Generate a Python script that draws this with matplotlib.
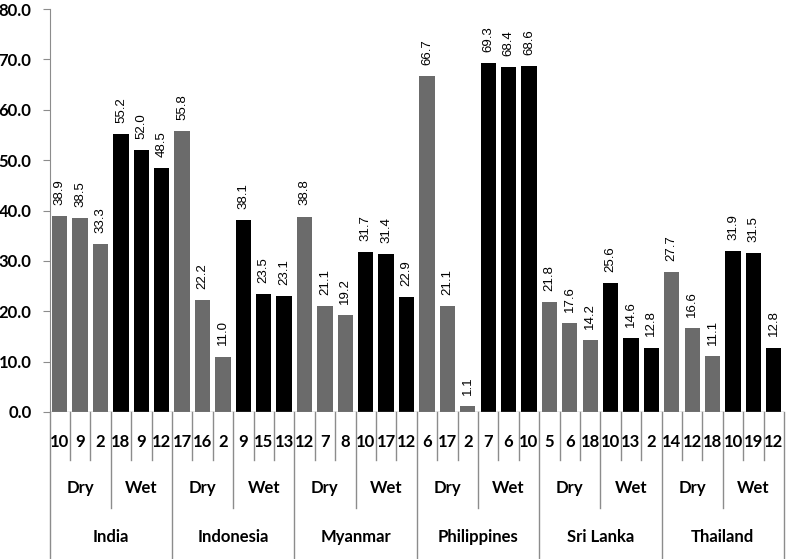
import matplotlib.pyplot as plt
import matplotlib.transforms as mtransforms
import numpy as np

countries = ["India", "Indonesia", "Myanmar", "Philippines", "Sri Lanka", "Thailand"]
seasons = ["Dry", "Wet"]

dry_values = [
    [38.9, 38.5, 33.3],
    [55.8, 22.2, 11.0],
    [38.8, 21.1, 19.2],
    [66.7, 21.1, 1.1],
    [21.8, 17.6, 14.2],
    [27.7, 16.6, 11.1],
]
wet_values = [
    [55.2, 52.0, 48.5],
    [38.1, 23.5, 23.1],
    [31.7, 31.4, 22.9],
    [69.3, 68.4, 68.6],
    [25.6, 14.6, 12.8],
    [31.9, 31.5, 12.8],
]
dry_n = [
    [10, 9, 2],
    [17, 16, 2],
    [12, 7, 8],
    [6, 17, 2],
    [5, 6, 18],
    [14, 12, 18],
]
wet_n = [
    [18, 9, 12],
    [9, 15, 13],
    [10, 17, 12],
    [7, 6, 10],
    [10, 13, 2],
    [10, 19, 12],
]

GRAY = "#6b6b6b"
AXC = "#8c8c8c"
TICKFONT = "Lato"
TS = 12

values, ns, colors = [], [], []
for c in range(len(countries)):
    values += dry_values[c] + wet_values[c]
    ns += dry_n[c] + wet_n[c]
    colors += [GRAY] * 3 + ["black"] * 3
x = np.arange(len(values))

fig = plt.figure(figsize=(7.87, 5.59), dpi=100)
W, H = 787, 559
ax = fig.add_axes([49.5 / W, 1 - 412 / H, (784 - 49.5) / W, (412 - 9) / H])

ax.bar(x, values, width=0.75, color=colors, edgecolor="none", zorder=2)
for xi, v in zip(x, values):
    ax.annotate(f"{v:.1f}", (xi, v), xytext=(0, 8), textcoords="offset points",
                rotation=90, ha="center", va="bottom", fontsize=9.5,
                family="Liberation Sans")

ax.set_xlim(-0.5, len(values) - 0.5)
ax.set_ylim(0, 80)
ax.set_yticks(np.arange(0, 81, 10))
ax.set_yticklabels([f"{t:.1f}" for t in np.arange(0, 81, 10)],
                   fontsize=TS, fontweight="bold", family=TICKFONT)
ax.tick_params(axis="y", length=5, color=AXC, pad=8)
ax.set_xticks([])
for s in ["top", "right", "bottom"]:
    ax.spines[s].set_visible(False)
ax.spines["left"].set_color(AXC)
ax.axhline(0, color=AXC, lw=1, zorder=3)

# multi-level category axis drawn below the plot
trans = mtransforms.blended_transform_factory(ax.transData, ax.transAxes)
px = 1 / (412 - 9)
lvl1, lvl2, lvl3 = -48 * px, -96 * px, -146 * px
for b in range(len(values) + 1):
    xb = b - 0.5
    if b % 6 == 0:
        y1 = lvl3
    elif b % 3 == 0:
        y1 = lvl2
    else:
        y1 = lvl1
    ax.plot([xb, xb], [0, y1], transform=trans, color=AXC, lw=1, clip_on=False)

for xi, n in zip(x, ns):
    ax.text(xi, -30 * px, str(n), transform=trans, ha="center", va="center",
            fontsize=TS, fontweight="bold", family=TICKFONT)
for g in range(len(countries) * 2):
    ax.text(g * 3 + 1, -76 * px, seasons[g % 2], transform=trans, ha="center",
            va="center", fontsize=TS, fontweight="bold", family=TICKFONT)
for c, name in enumerate(countries):
    ax.text(c * 6 + 2.5, -125 * px, name, transform=trans, ha="center",
            va="center", fontsize=TS, fontweight="bold", family=TICKFONT)

fig.savefig("out.png", dpi=100)
